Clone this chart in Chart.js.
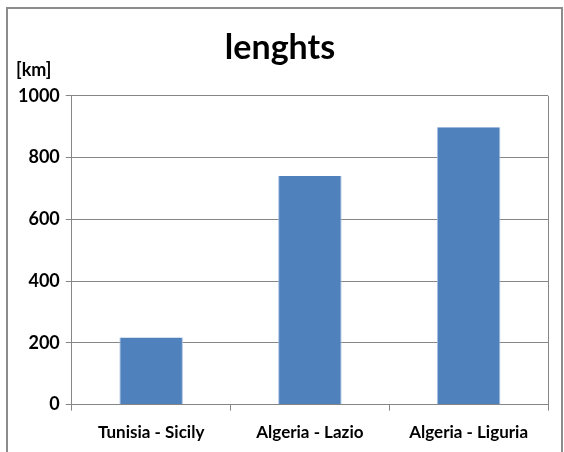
<!DOCTYPE html>
<html>
<head>
<meta charset="utf-8">
<script src="https://cdn.jsdelivr.net/npm/chart.js@4"></script>
<style>
  html, body { margin: 0; padding: 0; background: #fff; }
  #wrap { position: relative; width: 564px; height: 452px; overflow: hidden; }
  #frame { position: absolute; left: 6px; top: 7px; width: 553px; height: 460px; border: 2px solid #8c8c8c; }
  canvas { position: absolute; left: 0; top: 0; }
</style>
</head>
<body>
<div id="wrap">
  <div id="frame"></div>
  <canvas id="myBarChart" width="564" height="452"></canvas>
</div>
<script>
// chart data
const categories = ['Tunisia - Sicily', 'Algeria - Lazio', 'Algeria - Liguria'];
const lengthValues = [217, 740, 898];
const yTicks = [0, 200, 400, 600, 800, 1000];

const fontFamily = 'Lato, "Open Sans", sans-serif';

// draws the unit label above the y axis and the right border of the plot area
const extrasPlugin = {
    id: 'extras',
    afterDraw(chart) {
        const ctx = chart.ctx;
        const area = chart.chartArea;
        ctx.save();
        ctx.strokeStyle = '#868686';
        ctx.lineWidth = 1;
        ctx.beginPath();
        ctx.moveTo(Math.round(area.right) + 0.5, area.top);
        ctx.lineTo(Math.round(area.right) + 0.5, area.bottom);
        ctx.stroke();
        ctx.fillStyle = '#000';
        ctx.font = 'bold 18px ' + fontFamily;
        ctx.textAlign = 'center';
        ctx.textBaseline = 'middle';
        ctx.fillText('[km]', area.left - 38, area.top - 26);
        ctx.restore();
    }
};

const ctxBar = document.getElementById('myBarChart').getContext('2d');
const myBarChart = new Chart(ctxBar, {
    type: 'bar',
    data: {
        labels: categories,
        datasets: [{
            label: 'lenghts',
            data: lengthValues,
            backgroundColor: '#4F81BD',
            borderColor: '#A9C1E3',
            borderWidth: { left: 1, right: 1, top: 0, bottom: 0 },
            categoryPercentage: 1,
            barPercentage: 0.4
        }]
    },
    options: {
        responsive: false,
        animation: false,
        layout: { padding: { left: 12, right: 16, top: 0, bottom: -3 } },
        plugins: {
            legend: { display: false },
            tooltip: { enabled: false },
            title: {
                display: true,
                text: 'lenghts',
                color: '#000',
                font: { family: fontFamily, size: 34, weight: 'bold' },
                padding: { top: 28, bottom: 27 }
            }
        },
        scales: {
            x: {
                grid: {
                    offset: true,
                    drawOnChartArea: false,
                    drawTicks: true,
                    tickLength: 6,
                    color: '#868686'
                },
                border: { color: '#868686' },
                ticks: {
                    color: '#000',
                    padding: 12,
                    maxRotation: 0,
                    font: { family: fontFamily, size: 17, weight: 'bold' }
                }
            },
            y: {
                min: 0,
                max: 1000,
                afterBuildTicks(axis) {
                    axis.ticks = yTicks.map(v => ({ value: v }));
                },
                grid: { color: '#868686', tickLength: 6 },
                border: { color: '#868686' },
                ticks: {
                    color: '#000',
                    padding: 6,
                    callback: v => String(v),
                    font: { family: fontFamily, size: 18, weight: 'bold' }
                }
            }
        }
    },
    plugins: [extrasPlugin]
});
</script>
</body>
</html>
